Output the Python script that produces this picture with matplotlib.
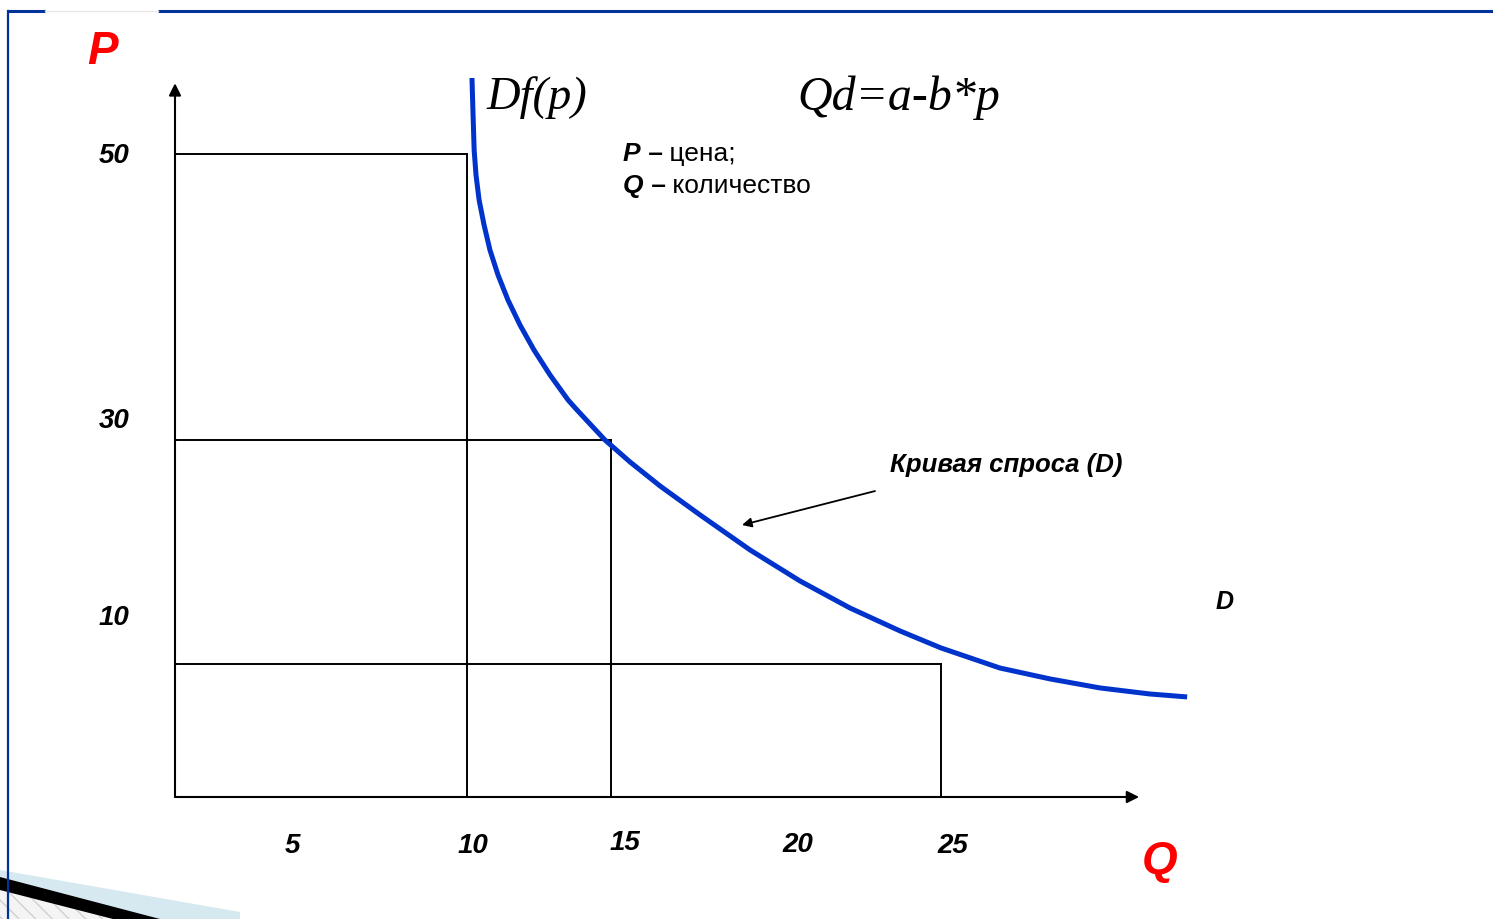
import matplotlib
matplotlib.use('Agg')  # no display
import matplotlib.pyplot as plt
from matplotlib.patches import Polygon

# demand curve (Q, P)
curve_q = [9.58, 9.61, 9.65, 9.71, 9.81, 9.97, 10.16, 10.42, 10.74, 11.13,
           11.58, 12.10, 12.68, 12.97, 13.87, 14.68, 15.65, 16.94, 18.55,
           20.16, 21.77, 23.39, 24.71, 26.61, 28.23, 29.84, 31.45, 32.65]
curve_p = [55.91, 53.42, 50.31, 48.37, 46.42, 44.48, 42.53, 40.59, 38.65,
           36.70, 34.76, 32.81, 30.87, 30.09, 27.76, 26.05, 24.18, 21.93,
           19.21, 16.80, 14.70, 12.91, 11.59, 10.03, 9.18, 8.48, 8.01, 7.78]

# guide points (Q, P) for the drop lines
guide_q = [9.42, 14.06, 24.70]
guide_p = [50.0, 27.76, 10.34]

# tick labels (where they sit on the drawing)
q_tick_pos = [3.8, 9.6, 14.5, 20.1, 25.1]
q_tick_lab = ["5", "10", "15", "20", "25"]
q_tick_y = [-3.8, -3.8, -3.6, -3.7, -3.8]
p_tick_pos = [49.85, 29.25, 13.95]
p_tick_lab = ["50", "30", "10"]

# axis extent
q_axis_end = 31.1
p_axis_end = 55.5

# annotation arrow (start -> tip)
arrow_from = (22.58, 23.79)
arrow_to = (18.29, 21.15)

W, H = 1493, 919
# pixel position of origin and px per unit
X0, Y0 = 175, 797
SX, SY = 31.0, 12.86

fig = plt.figure(figsize=(W / 100, H / 100), dpi=100)
fig.patch.set_facecolor("white")

# background / frame decorations in pixel units
bg = fig.add_axes([0, 0, 1, 1], zorder=0)
bg.set_xlim(0, W)
bg.set_ylim(H, 0)
bg.axis("off")
frame_col = "#003399"
bg.plot([8, 45], [11, 11], color=frame_col, lw=2.2, solid_capstyle="butt")
bg.plot([158, W], [11, 11], color=frame_col, lw=2.2, solid_capstyle="butt")
bg.plot([45, 158], [11, 11], color="#e8e8e8", lw=1)
bg.add_patch(Polygon([(0, 870), (240, 912), (240, H), (0, H)], closed=True,
                     facecolor="#d6e8f0", edgecolor="none"))
bg.add_patch(Polygon([(0, 890), (113, H), (0, H)], closed=True,
                     facecolor="#f4f4f4", edgecolor="#d0d0d0", hatch="\\\\", lw=0))
bg.add_patch(Polygon([(0, 877), (160, H), (113, H), (0, 890)], closed=True,
                     facecolor="black", edgecolor="none"))
bg.plot([8, 8], [11, H], color=frame_col, lw=1.6)

# main diagram in (Q, P) units
ax = fig.add_axes([0, 0, 1, 1], zorder=1)
ax.patch.set_alpha(0)
ax.set_xlim(-X0 / SX, (W - X0) / SX)
ax.set_ylim(-(H - Y0) / SY, Y0 / SY)
ax.axis("off")

# axes with arrows
ax.annotate("", xy=(0, p_axis_end), xytext=(0, 0),
            arrowprops=dict(arrowstyle="-|>", color="black", lw=1.5,
                            mutation_scale=18, shrinkA=0, shrinkB=0))
ax.annotate("", xy=(q_axis_end, 0), xytext=(0, 0),
            arrowprops=dict(arrowstyle="-|>", color="black", lw=1.5,
                            mutation_scale=18, shrinkA=0, shrinkB=0))

# drop lines
for q, p in zip(guide_q, guide_p):
    ax.plot([0, q], [p, p], color="black", lw=1.4)
    ax.plot([q, q], [0, p], color="black", lw=1.4)

# demand curve
ax.plot(curve_q, curve_p, color="#0033cc", lw=3.6, solid_capstyle="butt",
        solid_joinstyle="round")

# annotation arrow
ax.annotate("", xy=arrow_to, xytext=arrow_from,
            arrowprops=dict(arrowstyle="-|>", color="black", lw=1.3,
                            mutation_scale=14, shrinkA=0, shrinkB=0))

sans = "Liberation Sans"
serif = "Liberation Serif"

for x, y, lab in zip(q_tick_pos, q_tick_y, q_tick_lab):
    ax.text(x, y, lab, ha="center", va="center", fontsize=20,
            fontweight="bold", fontstyle="italic", family=sans)
for y, lab in zip(p_tick_pos, p_tick_lab):
    ax.text(-1.96, y, lab, ha="center", va="center", fontsize=20,
            fontweight="bold", fontstyle="italic", family=sans)

# texts in pixel units
bg.text(103, 52, "P", color="red", ha="center", va="center", fontsize=33,
        fontweight="bold", fontstyle="italic", family=sans)
bg.text(1160, 862, "Q", color="red", ha="center", va="center", fontsize=33,
        fontweight="bold", fontstyle="italic", family=sans)
bg.text(487, 98, "Df(p)", ha="left", va="center", fontsize=33.5,
        fontstyle="italic", family=serif)
bg.text(797, 98, "Qd=a-b*p", ha="left", va="center", fontsize=34.5,
        fontstyle="italic", family=serif)

# notes: bold italic letter, bold dash, plain word
for ypx, letter, word in [(161, "P", "цена;"), (193, "Q", "количество")]:
    t1 = bg.text(623, ypx, letter, ha="left", va="baseline", fontsize=19,
                 fontweight="bold", fontstyle="italic", family=sans)
    t2 = bg.annotate(" –", xy=(1, 0), xycoords=t1, va="bottom", ha="left",
                     fontsize=19, fontweight="bold", family=sans)
    bg.annotate(" " + word, xy=(1, 0), xycoords=t2, va="bottom", ha="left",
                fontsize=19, family=sans)

bg.text(890, 465, "Кривая спроса (D)", ha="left", va="center", fontsize=18.5,
        fontweight="bold", fontstyle="italic", family=sans)
bg.text(1225, 602, "D", ha="center", va="center", fontsize=18,
        fontweight="bold", fontstyle="italic", family=sans)

fig.savefig("out.png", dpi=100)
plt.close(fig)
